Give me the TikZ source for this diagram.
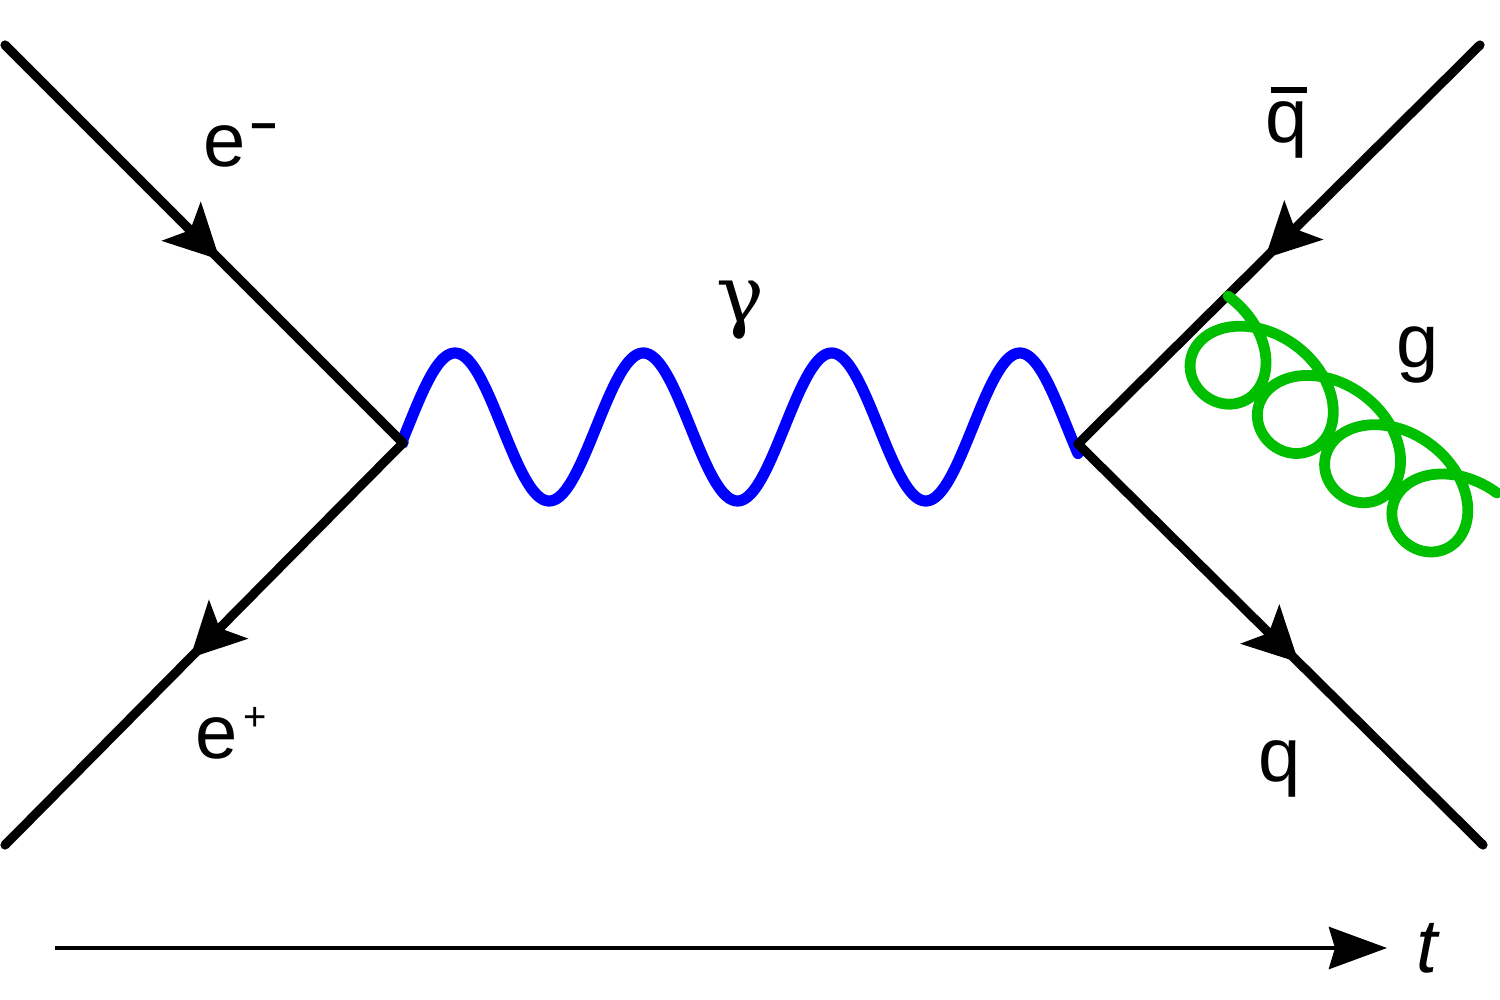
\documentclass[tikz,border=0pt]{standalone}
\usepackage{fontspec}
\setmainfont{Liberation Sans}
\newfontfamily\greekfont{DejaVu Serif}
\usetikzlibrary{arrows.meta,decorations.markings}
\definecolor{photonblue}{RGB}{0,0,255}
\definecolor{gluongreen}{RGB}{0,190,0}
\tikzset{
  fermion/.style={line width=4.6pt, line cap=round, postaction={decorate},
    decoration={markings, mark=at position #1 with {\arrow{Stealth[length=27pt,width=27pt,inset=6pt]}}}},
  photon/.style={line width=5.6pt, color=photonblue, line cap=round, line join=round},
  gluon/.style={line width=5.4pt, color=gluongreen, line cap=round, line join=round},
  timeaxis/.style={line width=2.3pt, -{Stealth[length=29pt,width=21pt,inset=3pt]}},
  lbl/.style={inner sep=0pt, font=\fontsize{38}{38}\selectfont}
}
\begin{document}
\begin{tikzpicture}[x=0.5pt,y=-0.5pt]
\useasboundingbox (0,0) rectangle (1500,1000);
% vertices and external points
\coordinate (ea) at (5,45);
\coordinate (v1) at (403,443);
\coordinate (pb) at (5,845);
\coordinate (qa) at (1480,45);
\coordinate (v2) at (1078,444);
\coordinate (qb) at (1483,845);
\coordinate (t0) at (55,948);
\coordinate (t1) at (1387,948);
% photon
\draw[photon] (v1) -- plot[domain=403:1078, samples=300, variable=\x]
  ({\x},{427-74*sin(90+1.91184*(\x-455))}) -- (v2);
% fermion lines
\draw[fermion=0.54] (ea) -- (v1);
\draw[fermion=0.535] (v1) -- (pb);
\draw[fermion=0.535] (qa) -- (v2);
\draw[fermion=0.545] (v2) -- (qb);
% gluon
\draw[gluon] plot[domain=-90:1350, samples=500, variable=\t]
  ({1228 + 0.8068*(0.2316*(\t+90) + 57*cos(\t)) + 0.5909*(47*(-1-sin(\t)))},
   {296 + 0.5909*(0.2316*(\t+90) + 57*cos(\t)) - 0.8068*(47*(-1-sin(\t)))});
% time axis
\draw[timeaxis] (t0) -- (t1);
% labels
\node[lbl, anchor=base west] (lem) at (203,167) {e\kern2.5pt\raisebox{12.5pt}{\fontsize{23}{23}\selectfont\bfseries −}};
\node[lbl, anchor=base west] (lep) at (195,758) {e\kern3pt\raisebox{14pt}{\fontsize{20}{20}\selectfont +}};
\node[lbl, anchor=base] (lgam) at (740,322) {\greekfont\fontsize{40}{40}\selectfont γ};
\node[lbl, anchor=base] (lqbar) at (1287,143) {\ooalign{q\cr\hidewidth\kern2pt\rule[25pt]{18pt}{3pt}\hidewidth\cr}};
\node[lbl, anchor=base] (lg) at (1418,367) {g};
\node[lbl, anchor=base] (lq) at (1280,781) {q};
\node[lbl, anchor=base] (lt) at (1427,972) {\itshape t};
\end{tikzpicture}
\end{document}
